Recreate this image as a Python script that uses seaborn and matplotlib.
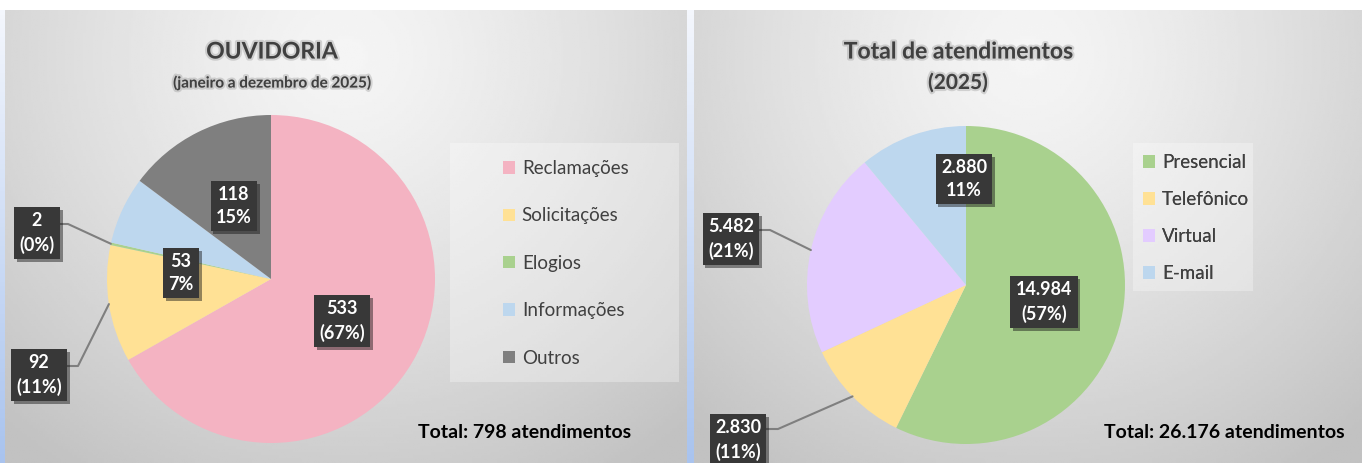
import numpy as np
import matplotlib.pyplot as plt
import matplotlib.patheffects as pe
from matplotlib.colors import LinearSegmentedColormap
import seaborn as sns

# Ouvidoria (janeiro a dezembro de 2025)
ouv_cats = ['Reclamações', 'Solicitações', 'Elogios', 'Informações', 'Outros']
ouv_vals = [533, 92, 2, 53, 118]
ouv_pct = [67, 11, 0, 7, 15]
ouv_parens = [True, True, True, False, False]

# Total de atendimentos (2025)
atd_cats = ['Presencial', 'Telefônico', 'Virtual', 'E-mail']
atd_vals = [14984, 2830, 5482, 2880]
atd_pct = [57, 11, 21, 11]
atd_parens = [True, True, True, False]

ouv_colors = ['#F4B3C2', '#FFE195', '#A9D18E', '#BDD7EE', '#7F7F7F']
atd_colors = ['#A9D18E', '#FFE195', '#E3CCFF', '#BDD7EE']

W, H = 1362, 463
sns.set_theme(style='white')
plt.rcParams['font.family'] = ['Lato', 'DejaVu Sans']

fig = plt.figure(figsize=(W / 100, H / 100), dpi=100)
ax = fig.add_axes([0, 0, 1, 1])


def Y(y):
    # pixel row -> data y
    return H - y


def fmt(v):
    return f'{v:,}'.replace(',', '.')


def panel_bg(x0, x1, y0, y1):
    xx, yy = np.meshgrid(np.linspace(0, 1, 300), np.linspace(0, 1, 150))
    d = np.sqrt(((xx - 0.5) / 0.75) ** 2 + ((yy - 0.1) / 1.1) ** 2)
    img = 0.96 - 0.2 * np.clip(d, 0, 1) ** 1.3
    ax.imshow(img, cmap='gray', vmin=0, vmax=1, extent=(x0, x1, Y(y1), Y(y0)),
              origin='upper', aspect='auto', zorder=0)


def strip(x0, x1):
    cm = LinearSegmentedColormap.from_list('s', ['#F4F7FD', '#A9C3EE'])
    ax.imshow(np.linspace(0, 1, 100)[:, None], cmap=cm, extent=(x0, x1, 0, Y(10)),
              origin='upper', aspect='auto', zorder=0)


def box_label(x, y, txt):
    t = ax.text(x, Y(y), txt, ha='center', va='center', color='white', fontsize=13,
                fontweight='bold', linespacing=1.4, zorder=6,
                bbox=dict(boxstyle='square,pad=0.3', fc='#383838', ec='none'))
    t.get_bbox_patch().set_path_effects([pe.withSimplePatchShadow(offset=(2, -2), alpha=0.45)])


def leader(w, cx, cy, r, bx, elbow_x, y_line):
    ang = np.deg2rad((w.theta1 + w.theta2) / 2)
    ex, ey = cx + r * np.cos(ang), Y(cy) + r * np.sin(ang)
    ax.plot([bx, elbow_x, ex], [Y(y_line), Y(y_line), ey], color='#7F7F7F', lw=1.5, zorder=5)


def draw_panel(vals, pct, parens, cats, colors, cx, cy, r, lab_pos, leaders,
               leg_xy, leg_space, leg_rect, tot_xy):
    wedges, _ = ax.pie(vals, colors=colors, startangle=90, counterclock=False,
                       center=(cx, Y(cy)), radius=r, frame=True,
                       wedgeprops=dict(linewidth=0, zorder=2))
    for i, (v, p, par) in enumerate(zip(vals, pct, parens)):
        ptxt = f'({p}%)' if par else f'{p}%'
        lx, ly = lab_pos[i]
        if i in leaders:
            elbow_x, y_line = leaders[i]
            leader(wedges[i], cx, cy, r, lx, elbow_x, y_line)
        box_label(lx, ly, f'{fmt(v)}\n{ptxt}')
    rx, ry, rw, rh = leg_rect
    ax.add_patch(plt.Rectangle((rx, Y(ry + rh)), rw, rh, fc='white', alpha=0.3, ec='none', zorder=1))
    leg = ax.legend(wedges, cats, loc='upper left', bbox_to_anchor=(leg_xy[0], Y(leg_xy[1])),
                    bbox_transform=ax.transData, frameon=False, fontsize=13.5,
                    labelspacing=leg_space, handlelength=0.65, handleheight=0.65,
                    handletextpad=0.35, borderpad=0, borderaxespad=0, labelcolor='#404040')
    ax.add_artist(leg)
    ax.text(tot_xy[0], Y(tot_xy[1]), f'Total: {fmt(sum(vals))} atendimentos', ha='center',
            va='center', fontsize=14, fontweight='bold', color='black', zorder=6)


glow = [pe.withStroke(linewidth=3, foreground='#707070', alpha=0.25)]

panel_bg(5, 687, 10, H)
panel_bg(694, W, 10, H)
strip(0, 5)
strip(687, 694)

ax.text(272, Y(52), 'OUVIDORIA', ha='center', va='center', fontsize=16.5, fontweight='bold',
        color='#404040', path_effects=glow)
ax.text(272, Y(83), '(janeiro a dezembro de 2025)', ha='center', va='center', fontsize=11,
        fontweight='bold', color='#404040', path_effects=glow)
ax.text(958, Y(52), 'Total de atendimentos', ha='center', va='center', fontsize=16.5,
        fontweight='bold', color='#404040', path_effects=glow)
ax.text(958, Y(83), '(2025)', ha='center', va='center', fontsize=15, fontweight='bold',
        color='#404040', path_effects=glow)

draw_panel(ouv_vals, ouv_pct, ouv_parens, ouv_cats, ouv_colors, 271, 279, 164,
           [(342, 321), (39, 375), (37, 233), (181, 273), (234, 206)],
           {1: (78, 366), 2: (68, 224)},
           (503, 160), 1.62, (450, 143, 229, 239), (525, 433))
draw_panel(atd_vals, atd_pct, atd_parens, atd_cats, atd_colors, 966, 285, 159,
           [(1044, 302), (738, 440), (731, 239), (964, 179)],
           {1: (778, 429), 2: (770, 230)},
           (1143, 154), 1.07, (1133, 143, 120, 148), (1224, 432))

ax.set_xlim(0, W)
ax.set_ylim(0, H)
ax.set_axis_off()
fig.savefig('out.png', dpi=100, facecolor='white')
